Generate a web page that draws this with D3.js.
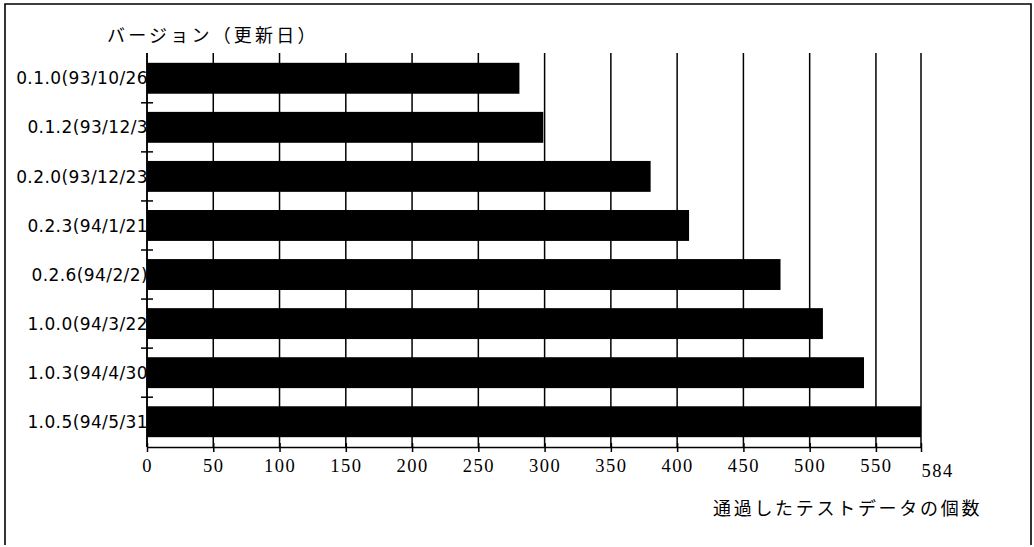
<!DOCTYPE html>
<html>
<head>
<meta charset="utf-8">
<script src="https://cdn.jsdelivr.net/npm/d3@7"></script>
<style>
  html, body { margin: 0; padding: 0; background: #fff; }
  svg { display: block; }
</style>
</head>
<body>
<svg id="chart" width="1034" height="547"></svg>
<script>
// Versions (release date) and the number of test cases each one passes
const versions = [
  "0.1.0(93/10/26",
  "0.1.2(93/12/3",
  "0.2.0(93/12/23",
  "0.2.3(94/1/21",
  "0.2.6(94/2/2)",
  "1.0.0(94/3/22",
  "1.0.3(94/4/30",
  "1.0.5(94/5/31"
];
const passedTests = [281, 299, 380, 409, 478, 510, 541, 584];
const tickValues = [0, 50, 100, 150, 200, 250, 300, 350, 400, 450, 500, 550, 584];
const yTitle = "バージョン（更新日）";
const xTitle = "通過したテストデータの個数";

const svg = d3.select("#chart");
const ink = "#000";

const plot = { left: 147, right: 921, top: 53, bottom: 447 };

const x = d3.scaleLinear().domain([0, 584]).range([plot.left, plot.right]);
const y = d3.scaleBand().domain(versions).range([plot.top, plot.bottom])
  .paddingInner(0.37).paddingOuter(0.2);

// frame around the figure
svg.append("path")
  .attr("d", "M5,545 L5,4 L1031,4 L1031,545")
  .attr("fill", "none").attr("stroke", ink).attr("stroke-width", 1.6);

// category labels (drawn first so the bars sit over their tails)
svg.append("g").selectAll("text").data(versions).join("text")
  .attr("x", plot.left + 1)
  .attr("y", d => y(d) + y.bandwidth() / 2)
  .attr("dy", "0.36em")
  .attr("text-anchor", "end")
  .attr("font-family", "DejaVu Sans, sans-serif")
  .attr("font-size", 17)
  .attr("letter-spacing", 0.4)
  .attr("fill", ink)
  .text(d => d);

// vertical grid lines at every tick
svg.append("g").selectAll("line").data(tickValues).join("line")
  .attr("x1", d => x(d)).attr("x2", d => x(d))
  .attr("y1", plot.top).attr("y2", plot.bottom)
  .attr("stroke", ink).attr("stroke-width", 1.5);

// bars
svg.append("g").selectAll("rect").data(versions).join("rect")
  .attr("x", x(0))
  .attr("y", d => y(d))
  .attr("width", (d, i) => x(passedTests[i]) - x(0))
  .attr("height", y.bandwidth())
  .attr("fill", ink);

// y axis with cross ticks between categories
svg.append("line")
  .attr("x1", plot.left).attr("x2", plot.left)
  .attr("y1", plot.top).attr("y2", plot.bottom)
  .attr("stroke", ink).attr("stroke-width", 1.5);
const between = versions.slice(1).map(v => y(v) - y.step() * y.paddingInner() / 2);
svg.append("g").selectAll("line").data(between).join("line")
  .attr("x1", plot.left - 6).attr("x2", plot.left + 6)
  .attr("y1", d => d).attr("y2", d => d)
  .attr("stroke", ink).attr("stroke-width", 1.5);

// x axis
const xAxis = d3.axisBottom(x).tickValues(tickValues).tickSize(5).tickSizeOuter(0).tickPadding(7);
const gx = svg.append("g").attr("transform", `translate(0,${plot.bottom})`).call(xAxis);
gx.select(".domain").attr("stroke", ink).attr("stroke-width", 1.5);
gx.selectAll(".tick line").attr("stroke", ink).attr("stroke-width", 1.5).attr("y1", -4);
gx.selectAll(".tick text")
  .attr("font-family", "Liberation Serif, serif")
  .attr("font-size", 18.5)
  .attr("letter-spacing", 1.5)
  .attr("fill", ink);
gx.selectAll(".tick").filter(d => d === 584).select("text")
  .attr("text-anchor", "start").attr("x", 0).attr("dy", "0.95em");

// axis titles
svg.append("text")
  .attr("x", 107).attr("y", 42)
  .attr("font-family", "Noto Sans CJK JP, sans-serif")
  .attr("font-size", 18).attr("letter-spacing", 3.2)
  .attr("fill", ink)
  .text(yTitle);

svg.append("text")
  .attr("x", 713).attr("y", 515)
  .attr("font-family", "Noto Sans CJK JP, sans-serif")
  .attr("font-size", 18).attr("letter-spacing", 2.7)
  .attr("fill", ink)
  .text(xTitle);
</script>
</body>
</html>
